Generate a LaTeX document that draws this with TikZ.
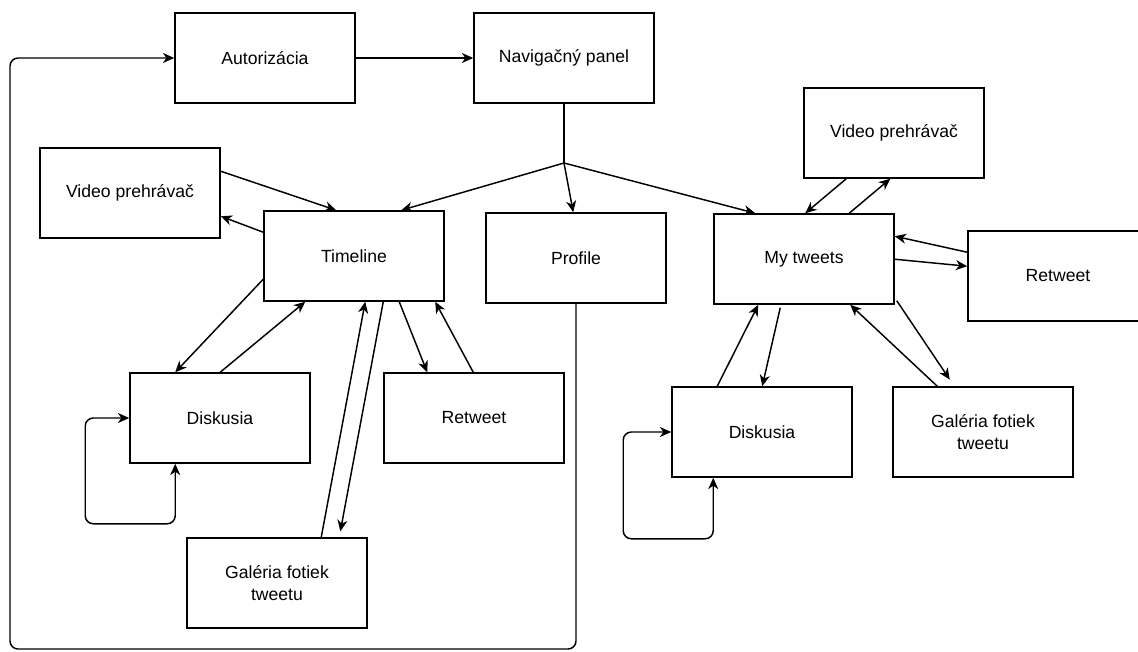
\documentclass[tikz,border=0pt]{standalone}
\usepackage{fontspec}
\setmainfont{Liberation Sans}
\usetikzlibrary{arrows.meta,calc}
\tikzset{
  box/.style={draw, line width=1.15pt, minimum width=135pt, minimum height=67.5pt, inner sep=0pt, align=center, font=\fontsize{13.2}{16.3}\selectfont},
  con/.style={line width=1.1pt},
  tip/.style={},
  arr/.style={con, -{Stealth[length=8.5pt,width=7.5pt,inset=2.6pt]}},
  biarr/.style={con, {Stealth[length=8.5pt,width=7.5pt,inset=2.6pt]}-{Stealth[length=8.5pt,width=7.5pt,inset=2.6pt]}},
}
\begin{document}
\begin{tikzpicture}[x=0.75pt,y=-0.75pt]
\useasboundingbox (0,0) rectangle (1138,652);
% nodes
\node[box] (auto) at (265,58) {Autorizácia};
\node[box] (nav) at (564,58) {Navigačný panel};
\node[box] (vl) at (130,193) {Video prehrávač};
\node[box] (tl) at (354,256) {Timeline};
\node[box] (pr) at (576,258) {Profile};
\node[box] (mt) at (804,259) {My tweets};
\node[box] (vr) at (894,133) {Video prehrávač};
\node[box] (rr) at (1058,276) {Retweet};
\node[box] (dl) at (220,418) {Diskusia};
\node[box] (rl) at (474,418) {Retweet};
\node[box] (gl) at (277,583) {Galéria fotiek\\tweetu};
\node[box] (dr) at (762,432) {Diskusia};
\node[box] (gr) at (983,432) {Galéria fotiek\\tweetu};
\coordinate (j) at (564,163);
% top
\draw[arr] (auto) -- (nav);
\draw[con] (nav.south) -- (j);
\draw[arr] (j) -- ($(tl.north west)+(138,0)$);
\draw[arr] (j) -- ($(pr.north west)+(88,0)$);
\draw[arr] (j) -- ($(mt.north west)+(42,0)$);
% profile back to autorizacia
\draw[arr, rounded corners=6pt] (pr.south) |- (10,649) |- (auto.west);
% timeline
\draw[arr] ($(vl.north east)+(0,24)$) -- ($(tl.north west)+(73,0)$);
\draw[arr] ($(tl.north west)+(0,22)$) -- ($(vl.north east)+(0,69)$);
\draw[arr] ($(tl.north west)+(0,69)$) -- ($(dl.north west)+(46,0)$);
\draw[arr] ($(dl.north west)+(91,0)$) -- ($(tl.south west)+(42,0)$);
\draw[arr] ($(gl.north west)+(135,0)$) -- ($(tl.south west)+(102,0)$);
\draw[arr, shorten >=4.5pt] ($(tl.south west)+(120,0)$) -- ($(gl.north west)+(153,0)$);
\draw[arr] ($(tl.south west)+(136,0)$) -- ($(rl.north west)+(44,0)$);
\draw[arr] ($(rl.north west)+(90,0)$) -- ($(tl.south west)+(172,0)$);
\draw[biarr, rounded corners=6pt] ($(dl.south west)+(46,0)$) -- ++(0,60) -| ($(dl.west)+(-44,0)$) -- (dl.west);
% my tweets
\draw[arr] ($(vr.south west)+(43,0)$) -- ($(mt.north west)+(92,0)$);
\draw[arr] ($(mt.north west)+(136,0)$) -- ($(vr.south west)+(87,0)$);
\draw[arr] ($(rr.north west)+(0,22)$) -- ($(mt.north east)+(0,23)$);
\draw[arr] ($(mt.north east)+(0,46)$) -- ($(rr.north west)+(0,36)$);
\draw[arr] ($(dr.north west)+(46,0)$) -- ($(mt.south west)+(45,0)$);
\draw[arr] ($(mt.south west)+(67,3)$) -- ($(dr.north west)+(91,0)$);
\draw[arr] ($(gr.north west)+(45,0)$) -- ($(mt.south west)+(137,0)$);
\draw[arr, shorten >=6pt] ($(mt.south east)+(2,-4)$) -- ($(gr.north west)+(62,0)$);
\draw[biarr, rounded corners=6pt] ($(dr.south west)+(42,0)$) -- ++(0,61) -| ($(dr.west)+(-48,0)$) -- (dr.west);
\end{tikzpicture}
\end{document}
